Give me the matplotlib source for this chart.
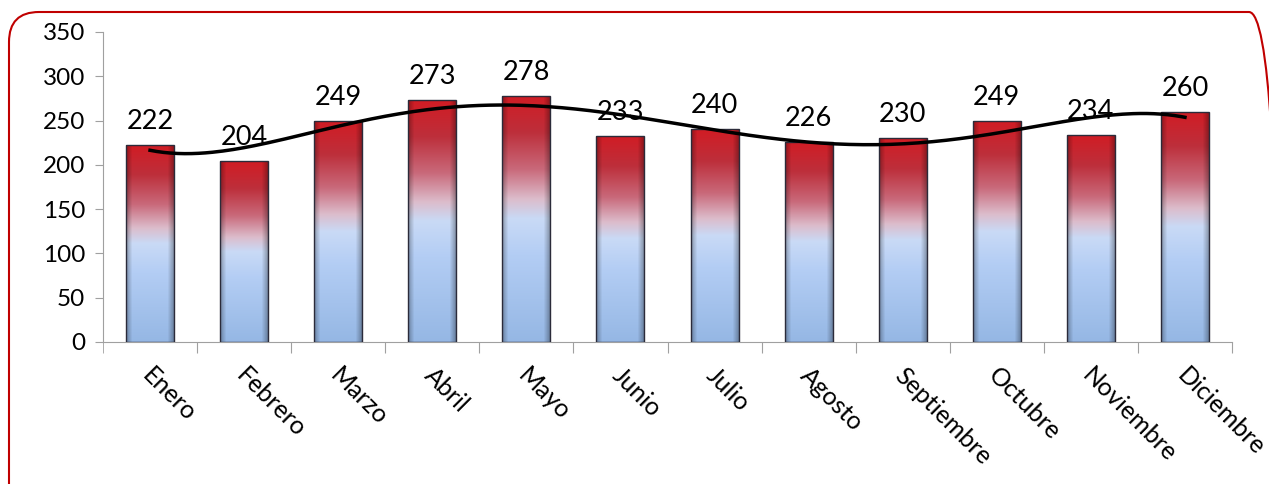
import matplotlib
matplotlib.use("Agg")
from matplotlib import pyplot as plt
from matplotlib.patches import FancyBboxPatch, Rectangle
from matplotlib.colors import LinearSegmentedColormap
import numpy as np

plt.rcParams['font.family'] = ['Lato', 'DejaVu Sans']

meses = ['Enero', 'Febrero', 'Marzo', 'Abril', 'Mayo', 'Junio', 'Julio',
         'Agosto', 'Septiembre', 'Octubre', 'Noviembre', 'Diciembre']
valores = [222, 204, 249, 273, 278, 233, 240, 226, 230, 249, 234, 260]
yticks = [0, 50, 100, 150, 200, 250, 300, 350]

# bar gradient, bottom -> top
grad = LinearSegmentedColormap.from_list('barra', [
    (0.0, '#95b7e4'), (0.35, '#b3cdf4'), (0.5, '#c9daf6'),
    (0.58, '#dcbccb'), (0.7, '#c9697a'), (0.85, '#bd2f3b'), (1.0, '#d11c24')])

fig = plt.figure(figsize=(12.69, 4.84), dpi=100)
ax = fig.add_axes([103/1269, 142/484, 1129/1269, 310/484])

x = np.arange(len(meses))
w = 0.51
g = np.linspace(0, 1, 256).reshape(-1, 1)
side = np.abs(np.linspace(-1, 1, 64))
for xi, v in zip(x, valores):
    rect = Rectangle((xi - w/2, 0), w, v, facecolor='none',
                     edgecolor='#2b2b3a', linewidth=1.0, zorder=3)
    ax.add_patch(rect)
    im = ax.imshow(g, cmap=grad, aspect='auto', origin='lower',
                   extent=[xi - w/2, xi + w/2, 0, v], zorder=2)
    im.set_clip_path(rect)
    # soft darkening near the sides (bevel look)
    shade = np.zeros((1, 64, 4))
    shade[..., 3] = np.clip((side - 0.75) * 1.2, 0, 1)
    sh = ax.imshow(shade, aspect='auto', extent=[xi - w/2, xi + w/2, 0, v], zorder=2.5)
    sh.set_clip_path(rect)
    ax.annotate(str(v), (xi, v), xytext=(0, 8), textcoords='offset points',
                ha='center', va='bottom', fontsize=19.5, color='black')

# polynomial trend line (order 5)
coef = np.polyfit(x, valores, 5)
xs = np.linspace(0, len(meses) - 1, 300)
ax.plot(xs, np.polyval(coef, xs), color='black', linewidth=2.5, zorder=4)

ax.set_xlim(-0.5, len(meses) - 0.5)
ax.set_ylim(0, 350)
ax.set_yticks(yticks)
ax.tick_params(axis='y', labelsize=17.5, length=6, color='#a0a0a0', pad=7)
ax.set_xticks(x + 0.5, minor=False)
ax.set_xticks([-0.5], minor=True)
ax.tick_params(axis='x', which='both', length=8, color='#a0a0a0', labelbottom=False)
for xi, m in zip(x, meses):
    ax.text(xi + 0.04, -24, m, rotation=-45, rotation_mode='anchor',
            ha='left', va='top', fontsize=18)

for s in ['top', 'right']:
    ax.spines[s].set_visible(False)
for s in ['left', 'bottom']:
    ax.spines[s].set_color('#a0a0a0')
ax.set_facecolor('none')

frame = FancyBboxPatch((0.09, -0.4), 12.70, 4.72 + 0.4, boxstyle='round,pad=0,rounding_size=0.3',
                       transform=fig.dpi_scale_trans, facecolor='none',
                       edgecolor='#c00000', linewidth=1.5)
fig.patches.append(frame)

fig.savefig('out.png', dpi=100)
